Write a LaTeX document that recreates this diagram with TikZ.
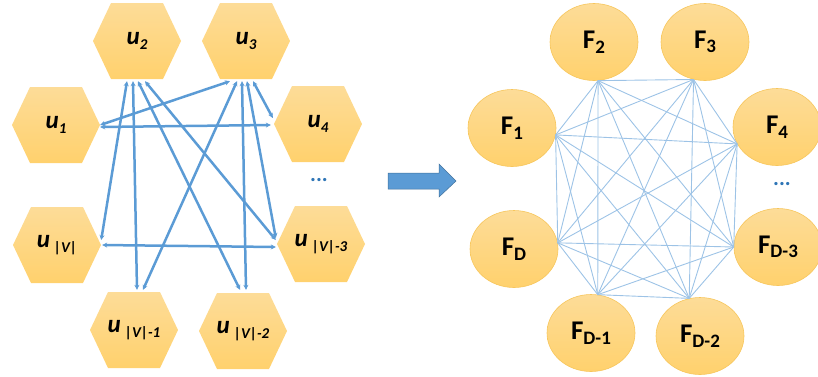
\documentclass[tikz,border=0pt]{standalone}
\usepackage{fontspec}
\setmainfont{Carlito}
\usepackage{tikz}
\usetikzlibrary{arrows.meta,positioning,shapes.geometric}

\definecolor{hexTop}{HTML}{FDDC98}
\definecolor{hexBot}{HTML}{FFD16D}
\definecolor{ellLine}{HTML}{F7C65C}
\definecolor{edgeBlue}{HTML}{5B9BD5}
\definecolor{thinBlue}{HTML}{9DC3E6}
\definecolor{arrLine}{HTML}{41719C}
\definecolor{dotBlue}{HTML}{2E75B6}

\newcommand{\subidx}[2][15]{\raisebox{-0.35ex}{\fontsize{#1}{#1}\selectfont #2}}

\tikzset{
  hexa/.style={rectangle, minimum width=88pt, minimum height=76pt, inner sep=0pt,
    font=\bfseries\itshape\fontsize{25}{25}\selectfont,
    path picture={\shade[top color=hexTop, bottom color=hexBot]
      (path picture bounding box.west)
      -- ([xshift=18pt]path picture bounding box.north west)
      -- ([xshift=-18pt]path picture bounding box.north east)
      -- (path picture bounding box.east)
      -- ([xshift=-18pt]path picture bounding box.south east)
      -- ([xshift=18pt]path picture bounding box.south west) -- cycle;}},
  feat/.style={ellipse, minimum width=88pt, minimum height=77pt, inner sep=0pt,
    draw=ellLine, line width=0.6pt, top color=hexTop, bottom color=hexBot,
    font=\bfseries\fontsize{27}{27}\selectfont},
  link/.style={edgeBlue, line width=2.5pt,
    {Stealth[length=5pt,width=5pt]}-{Stealth[length=5pt,width=5pt]}},
  thinlink/.style={thinBlue, line width=0.9pt},
  dots/.style={text=dotBlue, font=\bfseries\fontsize{22}{22}\selectfont}
}

\begin{document}
\begin{tikzpicture}[x=1pt,y=-1pt]
\useasboundingbox (0,0) rectangle (818,376);

% graph of users
\node[hexa] (u1) at (56,125) {u\subidx{1}};
\node[hexa] (u2) at (137,41) {u\subidx{2}};
\node[hexa] (u3) at (246,41) {u\subidx{3}};
\node[hexa] (u4) at (318,124) {u\subidx{4}};
\node[hexa] (uv) at (57,245) {u\,\subidx{|V|}};
\node[hexa] (uv3) at (321,244) {u\,\subidx{|V|-3}};
\node[hexa] (uv1) at (134,330) {u\,\subidx{|V|-1}};
\node[hexa] (uv2) at (243,331) {u\,\subidx{|V|-2}};
\node[dots] (ldots) at (319,180) {...};

\draw[link] (u1.east) -- ([xshift=-16pt,yshift=-2pt]u3.south);
\draw[link] ([yshift=-2pt]u1.east) -- ([xshift=-3pt,yshift=-1pt]u4.west);
\draw[link] ([xshift=-10pt,yshift=-2pt]u2.south) -- ([yshift=5pt]uv.east);
\draw[link] ([xshift=-4pt,yshift=-2pt]u2.south) -- ([xshift=3pt,yshift=2pt]uv1.north);
\draw[link] ([xshift=1pt,yshift=-2pt]u2.south) -- ([xshift=-3pt,yshift=3pt]uv2.north);
\draw[link] ([xshift=8pt,yshift=-2pt]u2.south) -- ([xshift=-1pt,yshift=4pt]uv3.west);
\draw[link] ([xshift=-9pt,yshift=-2pt]u3.south) -- ([xshift=9pt,yshift=2pt]uv1.north);
\draw[link] ([xshift=-4pt,yshift=-2pt]u3.south) -- ([xshift=3pt,yshift=3pt]uv2.north);
\draw[link] ([xshift=1pt,yshift=-2pt]u3.south) -- ([xshift=-1pt,yshift=6pt]uv3.west);
\draw[link] ([xshift=7pt,yshift=-2pt]u3.south) -- ([xshift=-1pt,yshift=6pt]u4.west);
\draw[link] ([xshift=1pt]uv.east) -- ([xshift=-1pt,yshift=-3pt]uv3.west);

% block arrow
\draw[arrLine, line width=0.5pt, fill=edgeBlue]
  (388,173) -- (439,173) -- (439,164) -- (456,181) -- (439,197) -- (439,189) -- (388,189) -- cycle;

% fully connected features
\foreach \name/\pos/\txt in {f1/{(512,128)}/1, f2/{(594,42)}/2, f3/{(705,42)}/3,
    f4/{(777,127)}/4, fd/{(514,249)}/D, fd3/{(778,247)}/D-3,
    fd1/{(591,333)}/D-1, fd2/{(700,336)}/D-2}
  \node[feat] (\name) at \pos {F\subidx[19]{\txt}};
\node[dots] (rdots) at (782,184) {...};

\coordinate (p1) at (f2.-84);
\coordinate (p2) at (f3.-107);
\coordinate (p3) at (f1.-9);
\coordinate (p4) at (f4.203);
\coordinate (p5) at (fd.8);
\coordinate (p6) at (fd3.180);
\coordinate (p7) at (fd1.80);
\coordinate (p8) at (fd2.106);
\foreach \i in {1,...,7} {
  \pgfmathtruncatemacro\k{\i+1}
  \foreach \j in {\k,...,8} \draw[thinlink] (p\i) -- (p\j);
}
\end{tikzpicture}
\end{document}
